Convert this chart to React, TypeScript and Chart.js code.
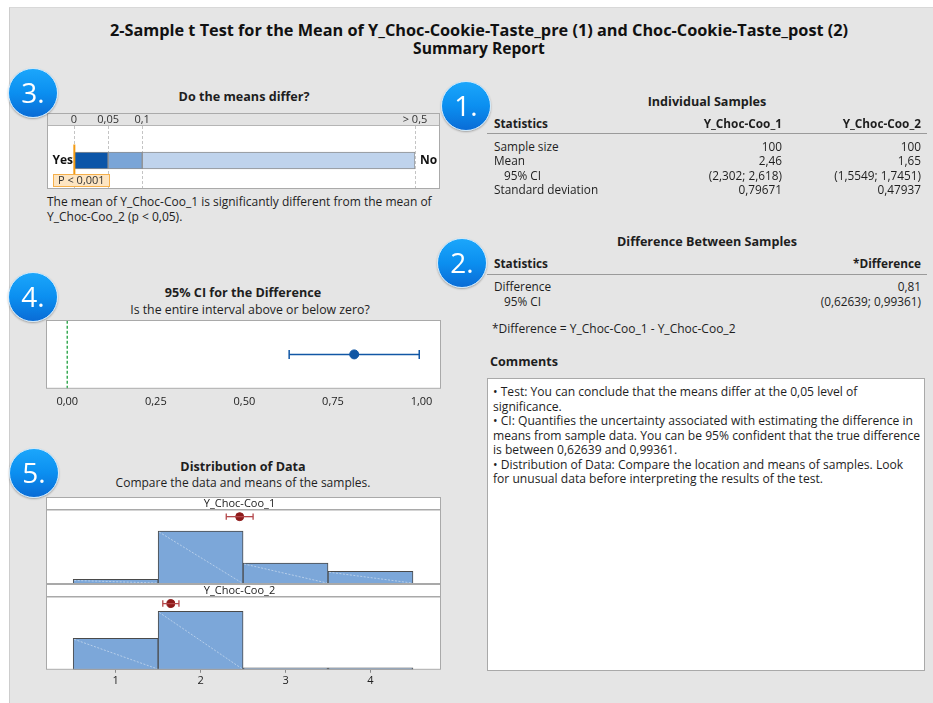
import React, { useEffect, useRef } from "react";
import { Chart, registerables } from "chart.js";
Chart.register(...registerables);

const FONT = '"Open Sans", "Noto Sans", sans-serif';

// ---------------- data ----------------
const pBands = [0.05, 0.05, 0.4]; // 0–0.05, 0.05–0.1, 0.1–0.5
const pTicks = [0, 0.05, 0.1, 0.5];
const pTickLabels = ["0", "0,05", "0,1", "> 0,5"];
const pValue = 0.0005;
const pLabel = "P < 0,001";

const diffEstimate = 0.81;
const diffCI = [0.62639, 0.99361];
const ciTicks = [0, 0.25, 0.5, 0.75, 1.0];
const ciTickLabels = ["0,00", "0,25", "0,50", "0,75", "1,00"];

const histBins = [1, 2, 3, 4];
const counts1 = [5, 58, 23, 14];
const counts2 = [35, 65, 0, 0];
const mean1 = 2.46;
const ci1 = [2.302, 2.618];
const mean2 = 1.65;
const ci2 = [1.5549, 1.7451];
const sampleNames = ["Y_Choc-Coo_1", "Y_Choc-Coo_2"];

const statLabels = ["Sample size", "Mean", "95% CI", "Standard deviation"];
const stats1 = ["100", "2,46", "(2,302; 2,618)", "0,79671"];
const stats2 = ["100", "1,65", "(1,5549; 1,7451)", "0,47937"];
const diffLabels = ["Difference", "95% CI"];
const diffValues = ["0,81", "(0,62639; 0,99361)"];

const commentLines = [
  "•  Test: You can conclude that the means differ at the 0,05 level of",
  "significance.",
  "•  CI: Quantifies the uncertainty associated with estimating the difference in",
  "means from sample data. You can be 95% confident that the true difference",
  "is between 0,62639 and 0,99361.",
  "•  Distribution of Data: Compare the location and means of samples. Look",
  "for unusual data before interpreting the results of the test.",
];

// ---------------- helpers ----------------
const T = ({ x, y, children, align = "left", bold = false, size = 12, color = "#1e1e1e" }: any) => {
  const lh = 16;
  const style: any = {
    position: "absolute",
    top: y - lh / 2,
    lineHeight: lh + "px",
    fontSize: size,
    fontWeight: bold ? 700 : 400,
    whiteSpace: "nowrap",
    color,
    fontFamily: FONT,
  };
  if (align === "left") style.left = x;
  else if (align === "right") {
    style.left = x - 500;
    style.width = 500;
    style.textAlign = "right";
  } else {
    style.left = x - 400;
    style.width = 800;
    style.textAlign = "center";
  }
  return <div style={style}>{children}</div>;
};

const Badge = ({ cx, cy, label }: any) => (
  <div
    style={{
      position: "absolute",
      left: cx - 25,
      top: cy - 25,
      width: 50,
      height: 50,
      boxSizing: "border-box",
      borderRadius: "50%",
      border: "1.5px solid #cfe9fb",
      background: "linear-gradient(#1ba6fb 0%, #0b8ff0 50%, #0a6cd6 100%)",
      boxShadow: "0 1px 2px rgba(0,0,0,0.3)",
      color: "#fff",
      fontSize: 28,
      lineHeight: "47px",
      textAlign: "center",
      fontFamily: FONT,
    }}
  >
    {label}
  </div>
);

// ---------------- p-value chart ----------------
function PChart() {
  const ref = useRef<HTMLCanvasElement>(null);
  useEffect(() => {
    const colors = ["#0b55a8", "#7aa5d7", "#bfd3ec"];
    const overlay = {
      id: "pOverlay",
      beforeDatasetsDraw(chart: any) {
        const ctx = chart.ctx;
        const x = chart.scales.x;
        const W = chart.width;
        const H = chart.height;
        ctx.save();
        ctx.fillStyle = "#e3e3e3";
        ctx.fillRect(0, 0, W, 11.5);
        ctx.strokeStyle = "#b5b5b5";
        ctx.lineWidth = 1;
        ctx.beginPath();
        ctx.moveTo(0, 11.5);
        ctx.lineTo(W, 11.5);
        ctx.stroke();
        ctx.font = `11px ${FONT}`;
        ctx.fillStyle = "#333";
        ctx.textAlign = "center";
        ctx.textBaseline = "middle";
        pTicks.forEach((t, i) => ctx.fillText(pTickLabels[i], x.getPixelForValue(t), 5.5));
        ctx.setLineDash([3, 2]);
        ctx.strokeStyle = "#c4c4c4";
        pTicks.forEach((t) => {
          const px = Math.round(x.getPixelForValue(t)) + 0.5;
          ctx.beginPath();
          ctx.moveTo(px, 12);
          ctx.lineTo(px, H);
          ctx.stroke();
        });
        ctx.restore();
      },
      afterDatasetsDraw(chart: any) {
        const ctx = chart.ctx;
        const x = chart.scales.x;
        const area = chart.chartArea;
        const cy = (area.top + area.bottom) / 2;
        ctx.save();
        ctx.font = `bold 12px ${FONT}`;
        ctx.fillStyle = "#111";
        ctx.textBaseline = "middle";
        ctx.textAlign = "right";
        ctx.fillText("Yes", x.getPixelForValue(0) - 1, cy);
        ctx.textAlign = "left";
        ctx.fillText("No", x.getPixelForValue(0.5) + 5, cy);
        // p marker
        const px = x.getPixelForValue(pValue);
        ctx.strokeStyle = "#f29a12";
        ctx.lineWidth = 2;
        ctx.beginPath();
        ctx.moveTo(px, cy - 16);
        ctx.lineTo(px, cy + 14);
        ctx.stroke();
        ctx.fillStyle = "#fde5c2";
        ctx.fillRect(5.5, 60.5, 56, 12);
        ctx.strokeStyle = "#f5b04c";
        ctx.lineWidth = 1;
        ctx.strokeRect(5.5, 60.5, 56, 12);
        ctx.font = `11px ${FONT}`;
        ctx.fillStyle = "#333";
        ctx.textAlign = "left";
        ctx.fillText(pLabel, 10, 66.5);
        ctx.restore();
      },
    };
    const chart = new Chart(ref.current!, {
      type: "bar",
      data: {
        labels: [""],
        datasets: pBands.map((v, i) => ({
          data: [v],
          backgroundColor: colors[i],
          borderColor: "#8f8f8f",
          borderWidth: 1,
          borderSkipped: false,
          barThickness: 17,
          stack: "p",
        })),
      },
      options: {
        indexAxis: "y",
        responsive: false,
        animation: false,
        devicePixelRatio: 1,
        layout: { autoPadding: false, padding: { left: 26, right: 24, top: 22, bottom: 3 } },
        scales: {
          x: { type: "linear", stacked: true, min: 0, max: 0.5, display: false },
          y: { stacked: true, display: false },
        },
        plugins: { legend: { display: false }, tooltip: { enabled: false } },
      } as any,
      plugins: [overlay],
    });
    return () => chart.destroy();
  }, []);
  return (
    <div
      style={{
        position: "absolute",
        left: 47,
        top: 113,
        width: 393,
        height: 76,
        boxSizing: "border-box",
        border: "1px solid #aaaaaa",
        background: "#fff",
      }}
    >
      <canvas ref={ref} width={391} height={74} style={{ position: "absolute", left: 0, top: 0 }} />
    </div>
  );
}

// ---------------- CI chart ----------------
function CIChart() {
  const ref = useRef<HTMLCanvasElement>(null);
  useEffect(() => {
    const frame = {
      id: "ciFrame",
      beforeDatasetsDraw(chart: any) {
        const { ctx, chartArea: a } = chart;
        ctx.save();
        ctx.fillStyle = "#fff";
        ctx.fillRect(a.left, a.top, a.right - a.left, a.bottom - a.top);
        ctx.restore();
      },
      afterDraw(chart: any) {
        const { ctx, chartArea: a } = chart;
        ctx.save();
        ctx.strokeStyle = "#a9a9a9";
        ctx.lineWidth = 1;
        ctx.strokeRect(a.left + 0.5, a.top + 0.5, a.right - a.left - 1, a.bottom - a.top - 1);
        ctx.restore();
      },
    };
    const blue = "#1157a5";
    const chart = new Chart(ref.current!, {
      type: "scatter",
      data: {
        datasets: [
          {
            data: [
              { x: 0, y: 0 },
              { x: 0, y: 1 },
            ],
            showLine: true,
            borderColor: "#3aab55",
            borderDash: [3, 2],
            borderWidth: 1.5,
            pointRadius: 0,
          },
          {
            data: [
              { x: diffCI[0], y: 0.5 },
              { x: diffCI[1], y: 0.5 },
            ],
            showLine: true,
            borderColor: blue,
            borderWidth: 1.5,
            pointStyle: "line",
            rotation: 90,
            pointRadius: 4.5,
            pointBorderWidth: 1.5,
            pointBorderColor: blue,
          },
          {
            data: [{ x: diffEstimate, y: 0.5 }],
            pointRadius: 4.5,
            backgroundColor: blue,
            borderColor: blue,
          },
        ],
      },
      options: {
        responsive: false,
        animation: false,
        devicePixelRatio: 1,
        layout: { autoPadding: false, padding: 0 },
        scales: {
          x: {
            type: "linear",
            min: -0.06,
            max: 1.055,
            afterBuildTicks: (s: any) => {
              s.ticks = ciTicks.map((v) => ({ value: v }));
            },
            ticks: {
              callback: (_v: any, i: number) => ciTickLabels[i],
              font: { family: FONT, size: 11 },
              color: "#222",
              padding: 6,
              maxRotation: 0,
              autoSkip: false,
            },
            grid: { display: true, drawOnChartArea: false, drawTicks: false },
            border: { display: false },
          },
          y: { display: false, min: 0, max: 1 },
        },
        plugins: { legend: { display: false }, tooltip: { enabled: false } },
      } as any,
      plugins: [frame],
    });
    return () => chart.destroy();
  }, []);
  return <canvas ref={ref} width={395} height={94} style={{ position: "absolute", left: 46, top: 320 }} />;
}

// ---------------- histogram panel ----------------
function HistChart({ counts, mean, ci, name, showAxis, left, top, height }: any) {
  const ref = useRef<HTMLCanvasElement>(null);
  useEffect(() => {
    const deco = {
      id: "histDeco",
      beforeDatasetsDraw(chart: any) {
        const { ctx, chartArea: a, width } = chart;
        ctx.save();
        ctx.fillStyle = "#fff";
        ctx.fillRect(a.left, a.top, a.right - a.left, a.bottom - a.top);
        ctx.fillRect(0, 0, width, 13);
        ctx.strokeStyle = "#a9a9a9";
        ctx.lineWidth = 1;
        ctx.strokeRect(0.5, 0.5, width - 1, 12.5);
        ctx.font = `11px ${FONT}`;
        ctx.fillStyle = "#222";
        ctx.textAlign = "center";
        ctx.textBaseline = "middle";
        ctx.fillText(name, width / 2 - 4, 6.8);
        ctx.restore();
      },
      afterDatasetDraw(chart: any, args: any) {
        if (args.index !== 0) return;
        const ctx = chart.ctx;
        ctx.save();
        ctx.strokeStyle = "rgba(255,255,255,0.55)";
        ctx.lineWidth = 0.8;
        ctx.setLineDash([2, 1.5]);
        args.meta.data.forEach((el: any) => {
          const p = el.getProps(["x", "y", "base", "width"], true);
          if (p.base - p.y < 4) return;
          ctx.beginPath();
          ctx.moveTo(p.x - p.width / 2 + 1, p.y + 1);
          ctx.lineTo(p.x + p.width / 2 - 1, p.base - 1);
          ctx.stroke();
        });
        ctx.restore();
      },
      afterDraw(chart: any) {
        const { ctx, chartArea: a } = chart;
        ctx.save();
        ctx.strokeStyle = "#a9a9a9";
        ctx.lineWidth = 1;
        ctx.strokeRect(a.left + 0.5, a.top - 0.5, a.right - a.left - 1, a.bottom - a.top);
        ctx.restore();
      },
    };
    const red = "#8e1a1a";
    const chart = new Chart(ref.current!, {
      type: "bar",
      data: {
        datasets: [
          {
            type: "bar",
            data: histBins.map((b, i) => ({ x: b, y: counts[i] })),
            backgroundColor: "#7ca7d9",
            borderColor: "#4a4a4a",
            borderWidth: 1,
            borderSkipped: false,
            barPercentage: 1,
            categoryPercentage: 1,
            minBarLength: 2,
            grouped: false,
            yAxisID: "y",
          },
          {
            type: "line",
            data: [
              { x: ci[0], y: 0.91 },
              { x: ci[1], y: 0.91 },
            ],
            borderColor: "#b4474a",
            borderWidth: 1.3,
            pointStyle: "line",
            rotation: 90,
            pointRadius: 3.2,
            pointBorderWidth: 1.3,
            pointBorderColor: "#b4474a",
            yAxisID: "y2",
          },
          {
            type: "line",
            data: [{ x: mean, y: 0.91 }],
            pointRadius: 4,
            backgroundColor: red,
            borderColor: red,
            yAxisID: "y2",
          },
        ],
      },
      options: {
        responsive: false,
        animation: false,
        devicePixelRatio: 1,
        layout: { autoPadding: false, padding: { top: 13, left: 0, right: 0, bottom: 0 } },
        scales: {
          x: {
            type: "linear",
            min: 0.18,
            max: 4.83,
            offset: false,
            display: showAxis,
            afterBuildTicks: (s: any) => {
              s.ticks = histBins.map((v) => ({ value: v }));
            },
            ticks: {
              font: { family: FONT, size: 11 },
              color: "#222",
              padding: 1,
              maxRotation: 0,
              autoSkip: false,
            },
            grid: {
              display: true,
              offset: false,
              drawOnChartArea: false,
              drawTicks: true,
              tickLength: 3,
              color: "#8a8a8a",
            },
            border: { display: false },
          },
          y: { display: false, min: 0, max: 81 },
          y2: { display: false, min: 0, max: 1 },
        },
        plugins: { legend: { display: false }, tooltip: { enabled: false } },
      } as any,
      plugins: [deco],
    });
    return () => chart.destroy();
  }, []);
  return <canvas ref={ref} width={395} height={height} style={{ position: "absolute", left, top }} />;
}

// ---------------- App ----------------
export default function App() {
  return (
    <div
      style={{
        position: "fixed",
        left: 0,
        top: 0,
        width: 933,
        height: 703,
        background: "#fff",
        overflow: "hidden",
        fontFamily: FONT,
      }}
    >
      <div
        style={{
          position: "absolute",
          left: 9,
          top: 7,
          width: 930,
          height: 700,
          background: "#e5e5e5",
          borderLeft: "1px solid #cdcdcd",
          borderTop: "1px solid #d8d8d8",
        }}
      />
      {/* title */}
      <T x={479} y={30} align="center" bold size={16.3} color="#111">
        2-Sample t Test for the Mean of Y_Choc-Cookie-Taste_pre (1) and Choc-Cookie-Taste_post (2)
      </T>
      <T x={479} y={48} align="center" bold size={15.6} color="#111">
        Summary Report
      </T>

      {/* section 3 */}
      <T x={244} y={97} align="center" bold size={12.6}>
        Do the means differ?
      </T>
      <PChart />
      <T x={47} y={202}>
        The mean of Y_Choc-Coo_1 is significantly different from the mean of
      </T>
      <T x={47} y={217}>
        Y_Choc-Coo_2 (p &lt; 0,05).
      </T>

      {/* section 4 */}
      <T x={243} y={293} align="center" bold size={12.6}>
        95% CI for the Difference
      </T>
      <T x={250} y={310} align="center" size={12.3}>
        Is the entire interval above or below zero?
      </T>
      <CIChart />

      {/* section 5 */}
      <T x={243} y={467} align="center" bold size={12.6}>
        Distribution of Data
      </T>
      <T x={243} y={483} align="center">
        Compare the data and means of the samples.
      </T>
      <HistChart counts={counts1} mean={mean1} ci={ci1} name={sampleNames[0]} showAxis={false} left={46} top={497} height={87} />
      <HistChart counts={counts2} mean={mean2} ci={ci2} name={sampleNames[1]} showAxis={true} left={46} top={584} height={104} />

      {/* section 1 */}
      <T x={707} y={102} align="center" bold size={12.6}>
        Individual Samples
      </T>
      <T x={494} y={123} bold size={11.8}>
        Statistics
      </T>
      <T x={782} y={123} align="right" bold size={11.8}>
        {sampleNames[0]}
      </T>
      <T x={921} y={123} align="right" bold size={11.8}>
        {sampleNames[1]}
      </T>
      <div style={{ position: "absolute", left: 487, top: 133, width: 440, height: 1, background: "#9a9a9a" }} />
      {statLabels.map((l, i) => (
        <React.Fragment key={l}>
          <T x={l === "95% CI" ? 504 : 494} y={146 + i * 14.4} size={11.8}>
            {l}
          </T>
          <T x={782} y={146 + i * 14.4} align="right" size={11.8}>
            {stats1[i]}
          </T>
          <T x={921} y={146 + i * 14.4} align="right" size={11.8}>
            {stats2[i]}
          </T>
        </React.Fragment>
      ))}

      {/* section 2 */}
      <T x={707} y={242} align="center" bold size={12.6}>
        Difference Between Samples
      </T>
      <T x={494} y={263} bold size={11.8}>
        Statistics
      </T>
      <T x={921} y={263} align="right" bold size={11.8}>
        *Difference
      </T>
      <div style={{ position: "absolute", left: 487, top: 274, width: 440, height: 1, background: "#9a9a9a" }} />
      {diffLabels.map((l, i) => (
        <React.Fragment key={l}>
          <T x={l === "95% CI" ? 504 : 494} y={286 + i * 14.6} size={11.8}>
            {l}
          </T>
          <T x={921} y={286 + i * 14.6} align="right" size={11.8}>
            {diffValues[i]}
          </T>
        </React.Fragment>
      ))}
      <T x={492} y={329}>
        *Difference = Y_Choc-Coo_1 - Y_Choc-Coo_2
      </T>

      {/* comments */}
      <T x={490} y={362} bold size={12.6}>
        Comments
      </T>
      <div
        style={{
          position: "absolute",
          left: 487,
          top: 378,
          width: 438,
          height: 293,
          boxSizing: "border-box",
          background: "#fff",
          border: "1px solid #a9a9a9",
        }}
      />
      {commentLines.map((l, i) => (
        <T key={i} x={493} y={392 + i * 14.5} size={12.1}>
          {l}
        </T>
      ))}

      {/* badges */}
      <Badge cx={33} cy={93} label="3." />
      <Badge cx={466} cy={106} label="1." />
      <Badge cx={462} cy={263} label="2." />
      <Badge cx={33} cy={297} label="4." />
      <Badge cx={34} cy={473} label="5." />
    </div>
  );
}
